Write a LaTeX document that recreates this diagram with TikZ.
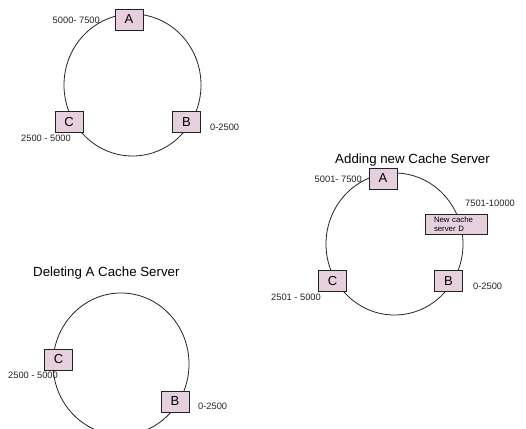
\documentclass[tikz,border=0pt]{standalone}
\usepackage{fontspec}
\setmainfont{Liberation Sans}
\definecolor{pinkbox}{HTML}{E6D0DE}
\definecolor{edge}{HTML}{222222}
\begin{document}
\begin{tikzpicture}[x=1pt,y=-1pt,
  ring/.style={draw=edge, line width=0.8pt},
  srv/.style={draw=edge, line width=0.8pt, fill=pinkbox, minimum width=28pt, minimum height=21pt, inner sep=0pt, font=\fontsize{13}{15}\selectfont},
  lbl/.style={inner sep=0pt, font=\fontsize{9.3}{11}\selectfont, text=edge},
  ttl/.style={inner sep=0pt, font=\fontsize{13.3}{15}\selectfont}]
\useasboundingbox (0,0) rectangle (526,428);
% ring 1
\draw[ring] (132.5,85) ellipse[x radius=68.5, y radius=71];
\node[srv] (A1) at (129,19.5) {A};
\node[srv] (B1) at (186.5,122) {B};
\node[srv] (C1) at (69,122) {C};
\node[lbl,anchor=east] (lA1) at (100,20) {5000- 7500};
\node[lbl,anchor=west] (lB1) at (210,127) {0-2500};
\node[lbl,anchor=west] (lC1) at (21,138) {2500 - 5000};
% ring 2
\node[ttl] (t2) at (412.5,160) {Adding new Cache Server};
\draw[ring] (394.5,244) ellipse[x radius=68.5, y radius=71];
\node[srv] (A2) at (383,178.5) {A};
\node[srv, minimum width=62pt, minimum height=20pt, text width=44pt, inner xsep=9pt, inner ysep=1pt, align=left, font=\fontsize{7.8}{9}\selectfont] (D2) at (456,224) {New cache\\server D};
\node[srv] (B2) at (448.5,281) {B};
\node[srv] (C2) at (332.5,281) {C};
\node[lbl,anchor=east] (lA2) at (362,179) {5001- 7500};
\node[lbl,anchor=west] (lD2) at (465,203) {7501-10000};
\node[lbl,anchor=west] (lB2) at (473,286) {0-2500};
\node[lbl,anchor=west] (lC2) at (271,297) {2501 - 5000};
% ring 3
\node[ttl,anchor=west] (t3) at (33,273) {Deleting A Cache Server};
\draw[ring] (121,364) ellipse[x radius=68, y radius=71];
\node[srv] (C3) at (58.5,359.5) {C};
\node[srv] (B3) at (175,401.5) {B};
\node[lbl,anchor=west] (lC3) at (8,375) {2500 - 5000};
\node[lbl,anchor=west] (lB3) at (198,406) {0-2500};
\end{tikzpicture}
\end{document}
